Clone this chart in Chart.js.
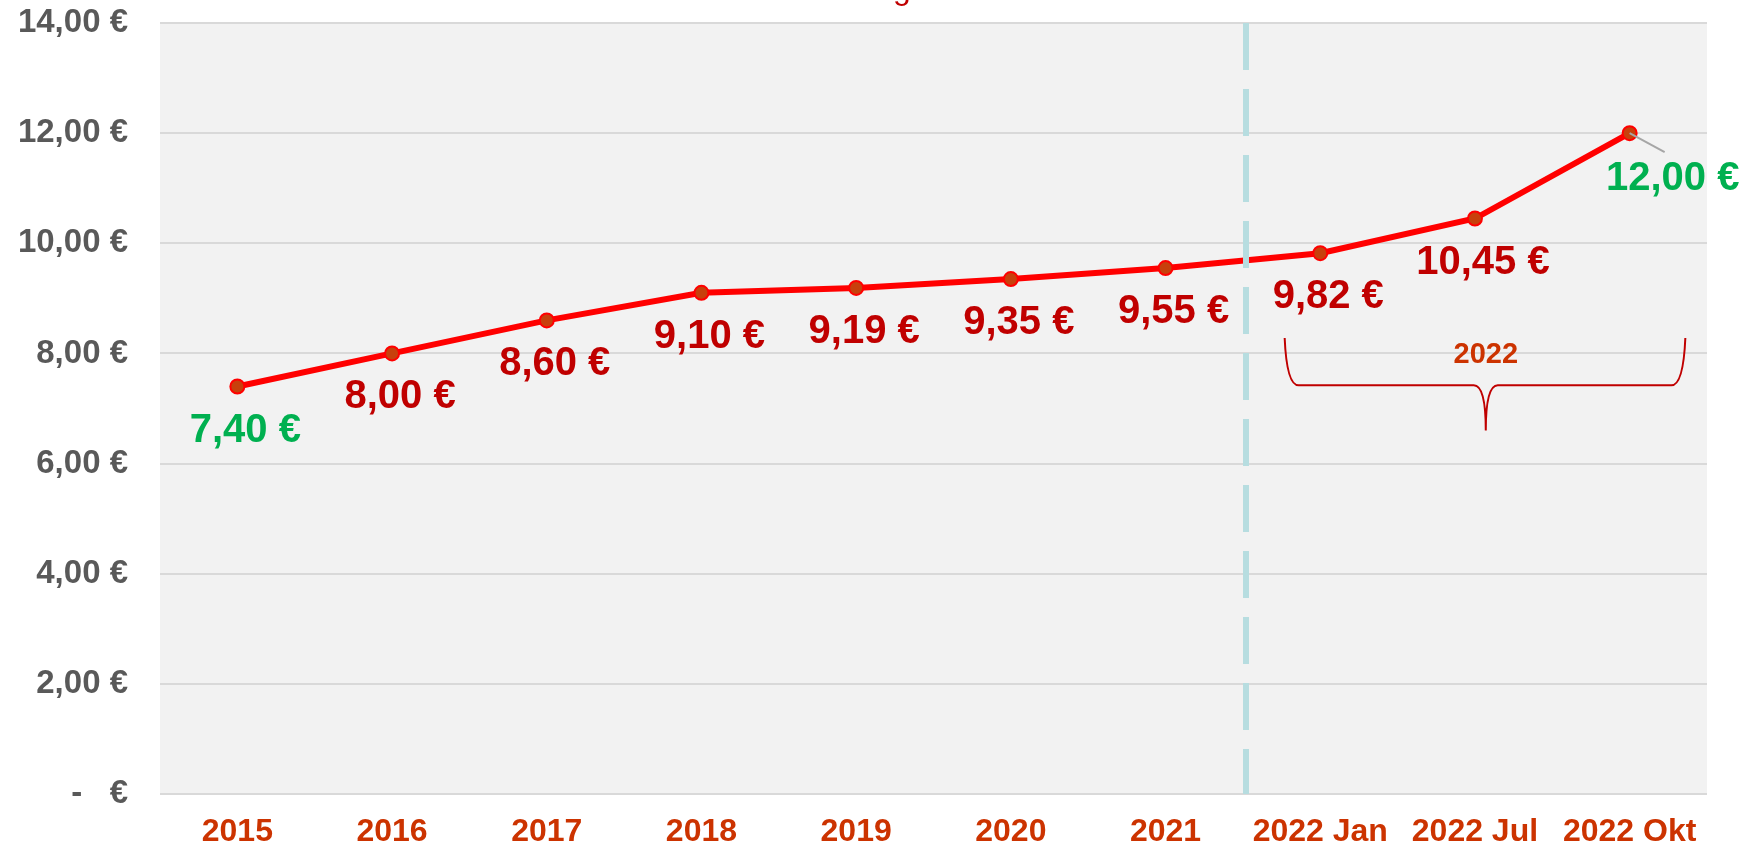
<!DOCTYPE html>
<html>
<head>
<meta charset="utf-8">
<script src="https://cdn.jsdelivr.net/npm/chart.js@4"></script>
<style>
  html, body { margin: 0; padding: 0; background: #ffffff; }
  #wrap { width: 1751px; height: 847px; }
</style>
</head>
<body>
<div id="wrap"><canvas id="wageChart" width="1751" height="847"></canvas></div>
<script>
// Mindestlohn data
const categories = ['2015', '2016', '2017', '2018', '2019', '2020', '2021', '2022 Jan', '2022 Jul', '2022 Okt'];
const wageValues = [7.40, 8.00, 8.60, 9.10, 9.19, 9.35, 9.55, 9.82, 10.45, 12.00];
const yTickLabels = ['-   €', '2,00 €', '4,00 €', '6,00 €', '8,00 €', '10,00 €', '12,00 €', '14,00 €'];
const bracketLabel = '2022';
const chartTitle = 'Entwicklung des Mindestlohns';

const FONT = '"Liberation Sans", Arial, sans-serif';

function euro(v) {
  return v.toFixed(2).replace('.', ',') + ' €';
}

const extras = {
  id: 'extras',
  beforeDraw(chart) {
    const { ctx, chartArea: a } = chart;
    ctx.save();
    ctx.fillStyle = '#f2f2f2';
    ctx.fillRect(a.left, a.top, a.right - a.left, a.bottom - a.top);
    ctx.restore();
  },
  afterDatasetsDraw(chart) {
    const { ctx, chartArea: a } = chart;
    const xs = chart.scales.x, ys = chart.scales.y;
    const pts = chart.getDatasetMeta(0).data;
    const last = pts.length - 1;

    ctx.save();
    // dashed divider between 2021 and 2022
    const xDiv = xs.getPixelForValue(6.52);
    ctx.strokeStyle = '#b7dde0';
    ctx.lineWidth = 6;
    ctx.setLineDash([47, 19]);
    ctx.beginPath();
    ctx.moveTo(xDiv, a.top);
    ctx.lineTo(xDiv, a.bottom);
    ctx.stroke();
    ctx.setLineDash([]);

    ctx.font = 'bold 40px ' + FONT;
    ctx.textAlign = 'center';
    ctx.textBaseline = 'middle';
    pts.forEach((p, i) => {
      const green = i === 0 || i === last;
      ctx.fillStyle = green ? '#00b050' : '#c00000';
      if (i === last) {
        ctx.strokeStyle = '#a6a6a6';
        ctx.lineWidth = 2;
        ctx.beginPath();
        ctx.moveTo(p.x, p.y);
        ctx.lineTo(p.x + 35, p.y + 19);
        ctx.stroke();
        ctx.fillText(euro(wageValues[i]), p.x + 43, p.y + 46);
      } else {
        ctx.fillText(euro(wageValues[i]), p.x + 8, p.y + 44);
      }
    });

    // curly bracket under 2022
    const xL = xs.getPixelForValue(6.77), xR = xs.getPixelForValue(9.36), xC = xs.getPixelForValue(8.07);
    const yTop = ys.getPixelForValue(8.28), yH = ys.getPixelForValue(7.42), yTip = ys.getPixelForValue(6.6);
    ctx.strokeStyle = '#c00000';
    ctx.lineWidth = 2;
    ctx.beginPath();
    ctx.moveTo(xL, yTop);
    ctx.quadraticCurveTo(xL + 2, yH, xL + 14, yH);
    ctx.lineTo(xC - 12, yH);
    ctx.quadraticCurveTo(xC, yH, xC, yTip);
    ctx.moveTo(xC, yTip);
    ctx.quadraticCurveTo(xC, yH, xC + 12, yH);
    ctx.lineTo(xR - 14, yH);
    ctx.quadraticCurveTo(xR - 2, yH, xR, yTop);
    ctx.stroke();

    ctx.fillStyle = '#cc3300';
    ctx.font = 'bold 29px ' + FONT;
    ctx.fillText(bracketLabel, xC, ys.getPixelForValue(7.97));

    // title, mostly cut off at the top edge
    ctx.fillStyle = '#c00000';
    ctx.font = '32px ' + FONT;
    ctx.textBaseline = 'alphabetic';
    ctx.fillText(chartTitle, (a.left + a.right) / 2 + 21, -1);
    ctx.restore();
  }
};

new Chart(document.getElementById('wageChart'), {
  type: 'line',
  data: {
    labels: categories,
    datasets: [{
      data: wageValues,
      borderColor: '#ff0000',
      borderWidth: 6,
      pointRadius: 7,
      pointBackgroundColor: '#c8400c',
      pointBorderColor: '#ff0000',
      pointBorderWidth: 2,
      tension: 0
    }]
  },
  options: {
    responsive: false,
    animation: false,
    devicePixelRatio: 1,
    layout: { autoPadding: false, padding: { top: 23, right: 44, left: 0, bottom: 0 } },
    plugins: { legend: { display: false }, tooltip: { enabled: false } },
    scales: {
      x: {
        offset: true,
        grid: { display: false, drawTicks: false },
        border: { display: false },
        ticks: {
          color: '#cc3300',
          font: { family: FONT, size: 32, weight: 'bold' },
          padding: 19,
          maxRotation: 0,
          autoSkip: false
        },
        afterFit(scale) {
          scale.height = 53;
          scale.paddingLeft = 0;
          scale.paddingRight = 0;
        }
      },
      y: {
        min: 0,
        max: 14,
        grid: { color: '#d9d9d9', lineWidth: 2, drawTicks: false },
        border: { display: false },
        ticks: {
          stepSize: 2,
          color: '#595959',
          font: { family: FONT, size: 33, weight: 'bold' },
          padding: 32,
          callback: (v, i) => yTickLabels[i]
        },
        afterFit(scale) {
          scale.width = 160;
          scale.paddingTop = 0;
          scale.paddingBottom = 0;
        }
      }
    }
  },
  plugins: [extras]
});
</script>
</body>
</html>
